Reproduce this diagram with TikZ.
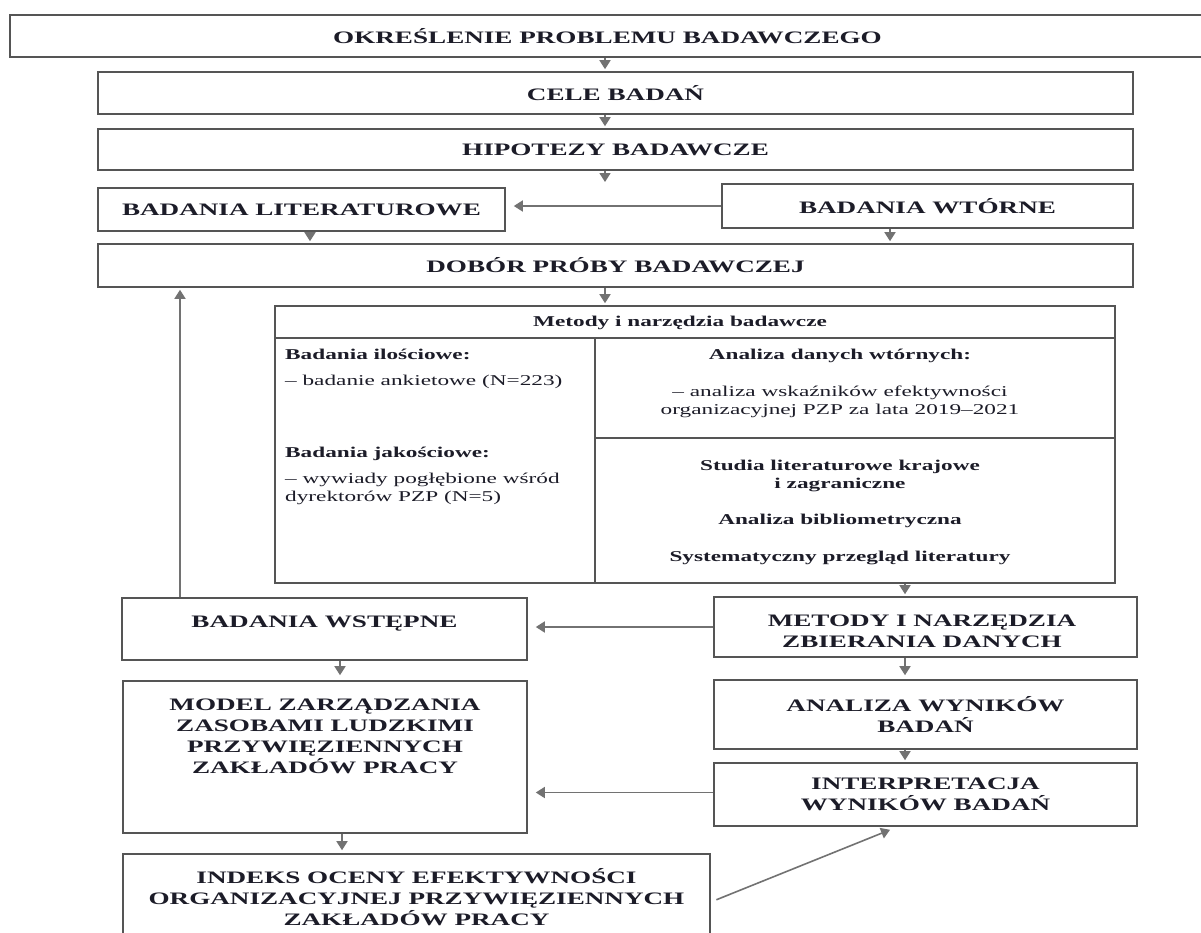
\documentclass[tikz,border=0pt]{standalone}
\usepackage{fontspec}
\setmainfont{Liberation Serif}[FakeStretch=1.55]
\usetikzlibrary{arrows.meta}
\definecolor{txt}{HTML}{1C1C28}
\definecolor{ln}{HTML}{555555}
\definecolor{arc}{HTML}{727272}
\begin{document}
\begin{tikzpicture}[x=1pt,y=-1pt,
  box/.style={draw=ln,line width=1.6pt,inner sep=0pt,text=txt,
    font=\bfseries\fontsize{17.5}{21}\selectfont,align=center},
  lbl/.style={text=txt,inner sep=0pt,font=\bfseries\fontsize{17.5}{21}\selectfont,align=center},
  arr/.style={draw=arc,line width=1.6pt,-{Triangle[width=11pt,length=9pt]},shorten >=2pt},
  tb/.style={text=txt,inner sep=0pt,font=\fontsize{15}{18}\selectfont},
  tbb/.style={tb,font=\bfseries\fontsize{15}{18}\selectfont},
  grid/.style={draw=ln,line width=1.6pt}
]
\useasboundingbox[fill=white] (0,0) rectangle (1201,932);

% boxes
\node[box,minimum width=1195pt,minimum height=42pt] (top) at (607.5,36) {OKREŚLENIE PROBLEMU BADAWCZEGO};
\node[box,minimum width=1035pt,minimum height=42pt] (cele) at (615.5,93) {CELE BADAŃ};
\node[box,minimum width=1035pt,minimum height=41pt] (hip) at (615.5,149.5) {HIPOTEZY BADAWCZE};
\coordinate (hend) at (605,184);
\node[box,minimum width=407pt,minimum height=43pt] (lit) at (301.5,209.5) {BADANIA LITERATUROWE};
\node[box,minimum width=411pt,minimum height=44pt] (wt) at (927.5,206) {BADANIA WTÓRNE};
\node[box,minimum width=1035pt,minimum height=43pt] (dob) at (615.5,265.5) {DOBÓR PRÓBY BADAWCZEJ};

% table
\node[draw=ln,line width=1.6pt,minimum width=840pt,minimum height=277pt,inner sep=0pt] (tab) at (695,444.5) {};
\draw[grid] (275,338) -- (1115,338);
\draw[grid] (595,338) -- (595,583);
\draw[grid] (595,438) -- (1115,438);
\node[tbb] (th) at (680,323) {Metody i narzędzia badawcze};
\node[tbb,anchor=west] (t1) at (285,354) {Badania ilościowe:};
\node[tb,anchor=west] (t2) at (285,382) {– badanie ankietowe (N=223)};
\node[tbb,anchor=west] (t3) at (285,454) {Badania jakościowe:};
\node[tb,anchor=west,align=left] (t4) at (285,489) {– wywiady pogłębione wśród\\dyrektorów PZP (N=5)};
\node[tbb] (r1) at (840,356) {Analiza danych wtórnych:};
\node[tb,align=center] (r2) at (840,402) {– analiza wskaźników efektywności\\organizacyjnej PZP za lata 2019–2021};
\node[tbb,align=center] (r3) at (840,476) {Studia literaturowe krajowe\\i zagraniczne};
\node[tbb] (r4) at (840,521) {Analiza bibliometryczna};
\node[tbb] (r5) at (840,558) {Systematyczny przegląd literatury};

\node[box,minimum width=423pt,minimum height=60pt] (met) at (925.5,627) {};
\node[lbl] (mett) at (922,631) {METODY I NARZĘDZIA\\ZBIERANIA DANYCH};
\node[box,minimum width=405pt,minimum height=62pt] (wst) at (324.5,629) {};
\node[lbl] (wstt) at (324.5,624) {BADANIA WSTĘPNE};
\node[box,minimum width=404pt,minimum height=152pt] (model) at (325,757) {};
\node[lbl] (modelt) at (325,736.5) {MODEL ZARZĄDZANIA\\ZASOBAMI LUDZKIMI\\PRZYWIĘZIENNYCH\\ZAKŁADÓW PRACY};
\node[box,minimum width=423pt,minimum height=69pt] (ana) at (925.5,714.5) {ANALIZA WYNIKÓW\\BADAŃ};
\node[box,minimum width=423pt,minimum height=63pt] (int) at (925.5,794.5) {INTERPRETACJA\\WYNIKÓW BADAŃ};
\node[box,minimum width=587pt,minimum height=91pt] (ind) at (416.5,899.5) {};
\node[lbl] (indt) at (416.5,897) {INDEKS OCENY EFEKTYWNOŚCI\\ORGANIZACYJNEJ PRZYWIĘZIENNYCH\\ZAKŁADÓW PRACY};

% arrows
\draw[arr] ([xshift=-2.5pt]top.south) -- ([xshift=-2.5pt]top.south |- cele.north);
\draw[arr] ([xshift=-10.5pt]cele.south) -- ([xshift=-10.5pt]cele.south |- hip.north);
\draw[arr] ([xshift=-10.5pt]hip.south) -- (hend);
\draw[arr,shorten >=8pt] (wt.west) -- (wt.west -| lit.east);
\draw[arr] ([xshift=8.5pt]lit.south) -- ([xshift=8.5pt]lit.south |- dob.north);
\draw[arr] ([xshift=-37.5pt]wt.south) -- ([xshift=-37.5pt]wt.south |- dob.north);
\draw[arr] ([xshift=-10.5pt]dob.south) -- ([xshift=-10.5pt]dob.south |- tab.north);
\draw[arr] ([xshift=-20.5pt]met.north |- tab.south) -- ([xshift=-20.5pt]met.north);
\draw[arr] ([xshift=-144.5pt]wst.north) -- ([xshift=-144.5pt]wst.north |- dob.south);
\draw[arr,shorten >=8pt] (met.west) -- (met.west -| wst.east);
\draw[arr,shorten >=5pt] ([xshift=15.5pt]wst.south) -- ([xshift=15.5pt]wst.south |- model.north);
\draw[arr,shorten >=4pt] ([xshift=-20.5pt]met.south) -- ([xshift=-20.5pt]met.south |- ana.north);
\draw[arr] ([xshift=-20.5pt]ana.south) -- ([xshift=-20.5pt]ana.south |- int.north);
\draw[arr,shorten >=8pt] ([yshift=2pt]int.west) -- ([yshift=2pt]int.west -| model.east);
\draw[arr,shorten >=3pt] ([xshift=17pt]model.south) -- ([xshift=17pt]model.south |- ind.north);
\draw[arr,shorten <=6pt,shorten >=8pt] ([yshift=-2.5pt]ind.east) -- ([xshift=-28pt]int.south);
\end{tikzpicture}
\end{document}
